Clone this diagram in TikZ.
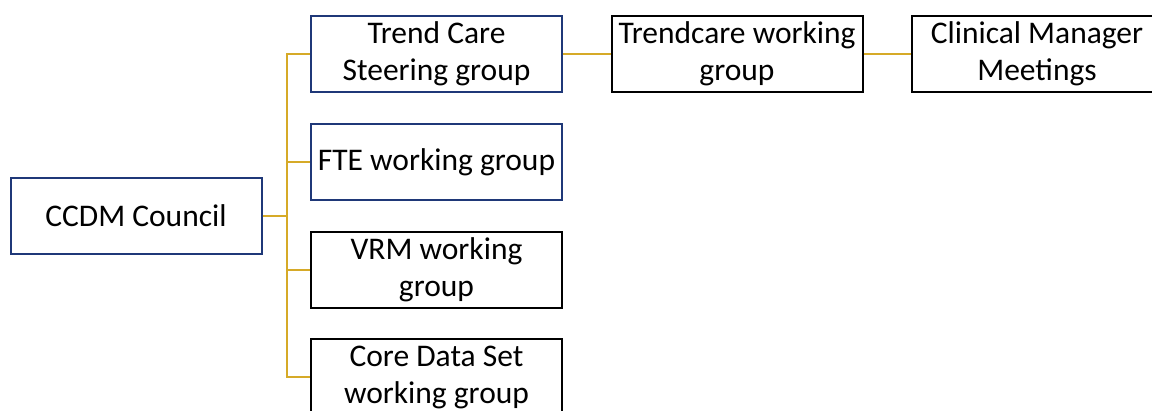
\documentclass[tikz,border=0pt]{standalone}
\usepackage{fontspec}
\setmainfont{Carlito}
\usepackage{tikz}
\definecolor{navy}{RGB}{31, 56, 120}
\definecolor{gold}{RGB}{214, 170, 40}

\begin{document}
\begin{tikzpicture}
  [
    x=1pt, y=-1pt,
    link/.style={line width=2pt, gold},
    box/.style={draw, line width=2pt, minimum width=251pt, minimum height=76pt,
      align=center, inner sep=0pt, font=\fontsize{31.5}{37}\selectfont},
    bluebox/.style={box, navy, text=black}
  ]
  \useasboundingbox (0, 0) rectangle (1152, 410);

  \node[bluebox] (council) at (136, 215.5) {CCDM Council};

  \node[bluebox] (steer) at (436.5, 54) {Trend Care\\Steering group};
  \node[bluebox] (fte) at (436.5, 162) {FTE working group};
  \node[box] (vrm) at (436.5, 269.5) {VRM working\\group};
  \node[box] (core) at (436.5, 377) {Core Data Set\\working group};

  \node[box] (trendcare) at (737, 54) {Trendcare working\\group};
  \node[box] (clinical) at (1037, 54) {Clinical Manager\\Meetings};

  \coordinate (bus) at (287, 215.5);
  \draw[link] (council.east) -- (bus);
  \draw[link] (bus) |- (steer.west);
  \draw[link] (bus) |- (fte.west);
  \draw[link] (bus) |- (vrm.west);
  \draw[link] (bus) |- (core.west);
  \draw[link] (steer.east) -- (trendcare.west);
  \draw[link] (trendcare.east) -- (clinical.west);
\end{tikzpicture}
\end{document}
